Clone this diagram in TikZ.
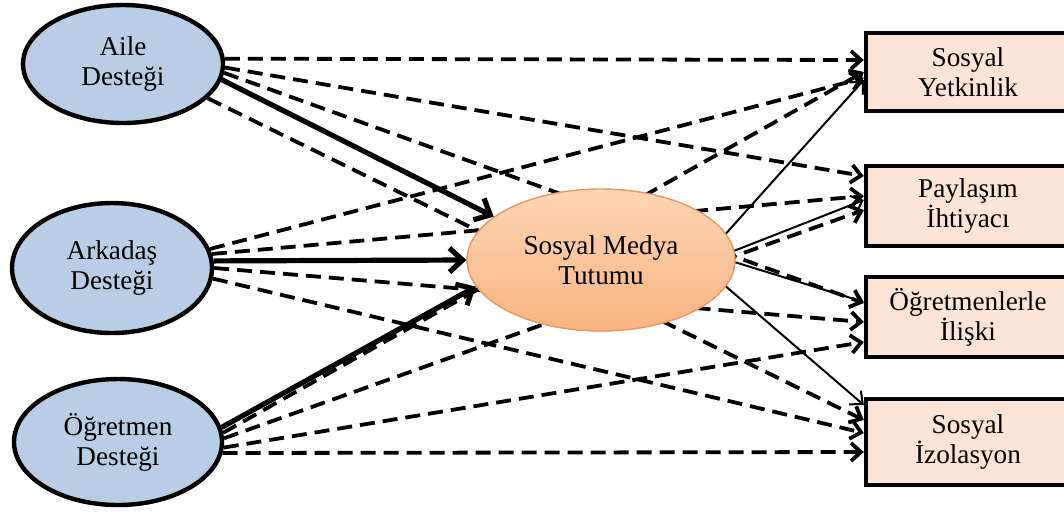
\documentclass[tikz,border=0pt]{standalone}
\usepackage{fontspec}
\setmainfont{Liberation Serif}
\usetikzlibrary{arrows.meta,shapes.geometric,calc}
\definecolor{predfill}{RGB}{185,205,228}
\definecolor{boxfill}{RGB}{252,228,214}
\definecolor{medtop}{RGB}{253,214,182}
\definecolor{medbot}{RGB}{248,180,130}
\definecolor{medline}{RGB}{236,150,90}
\begin{document}
\begin{tikzpicture}[x=0.5pt,y=-0.5pt,
  txt/.style={align=center, font=\fontsize{13.6}{15}\selectfont},
  pred/.style={txt, ellipse, draw=black, line width=2.2pt, fill=predfill, inner sep=0pt},
  med/.style={txt, ellipse, draw=medline, line width=0.7pt, top color=medtop, bottom color=medbot, inner sep=0pt},
  outbox/.style={txt, rectangle, draw=black, line width=2.2pt, fill=boxfill, inner sep=0pt, minimum width=102pt},
  dsh/.style={line width=1.9pt, dash pattern=on 7.5pt off 4pt, -{Straight Barb[length=5pt,width=9pt]}},
  thick arrow/.style={line width=2.6pt, -{Straight Barb[length=6.5pt,width=12pt]}},
  thin arrow/.style={line width=1pt, -{Straight Barb[length=5pt,width=9pt]}}]
\useasboundingbox (0,0) rectangle (1064,511);
% predictors
\node[pred, minimum width=100pt, minimum height=59pt] (aile) at (123,64) {Aile\\Desteği};
\node[pred, minimum width=100pt, minimum height=65pt] (ark) at (112,268) {Arkadaş\\Desteği};
\node[pred, minimum width=104pt, minimum height=63pt] (ogr) at (118,442) {Öğretmen\\Desteği};
% outcomes
\node[outbox, minimum height=39pt] (yet) at (968,72) {Sosyal\\Yetkinlik};
\node[outbox, minimum height=40pt] (pay) at (968,206) {Paylaşım\\İhtiyacı};
\node[outbox, minimum height=40pt] (ilis) at (968,317) {Öğretmenlerle\\İlişki};
\node[outbox, minimum height=43pt] (izo) at (968,442) {Sosyal\\İzolasyon};
% dashed direct effects
\draw[dsh] (aile.3) -- ($(yet.west)+(0,-12)$);
\draw[dsh] (aile.-2) -- ($(pay.west)+(0,-30)$);
\draw[dsh] (aile.-5) -- ($(ilis.west)+(0,-14)$);
\draw[dsh] (aile.-22) -- ($(izo.west)+(0,-22)$);
\draw[dsh] (ark.11) -- ($(yet.west)+(0,6)$);
\draw[dsh] (ark.8) -- ($(pay.west)+(0,-10)$);
\draw[dsh] (ark.0) -- ($(ilis.west)+(0,5)$);
\draw[dsh] (ark.-6) -- ($(izo.west)+(0,-9)$);
\draw[dsh] (ogr.5) -- ($(yet.west)+(0,0)$);
\draw[dsh] (ogr.2) -- ($(pay.west)+(0,4)$);
\draw[dsh] (ogr.-3) -- ($(ilis.west)+(0,25)$);
\draw[dsh] (ogr.-6) -- ($(izo.west)+(0,10)$);
% mediator
\node[med, minimum width=134pt, minimum height=71pt] (smt) at (601,260) {Sosyal Medya\\Tutumu};
% solid paths
\draw[thick arrow] (aile.-9) -- (smt.158);
\draw[thick arrow] (ark.4) -- (smt.180);
\draw[thick arrow] (ogr.8) -- (smt.192);
\draw[thin arrow] (smt.12) -- ($(yet.west)+(0,8)$);
\draw[thin arrow] (smt.4) -- ($(pay.west)+(0,-6)$);
\draw[thin arrow] (smt.-1) -- ($(ilis.west)+(0,-15)$);
\draw[thin arrow] (smt.-12) -- ($(izo.west)+(0,-37)$);
\end{tikzpicture}
\end{document}
